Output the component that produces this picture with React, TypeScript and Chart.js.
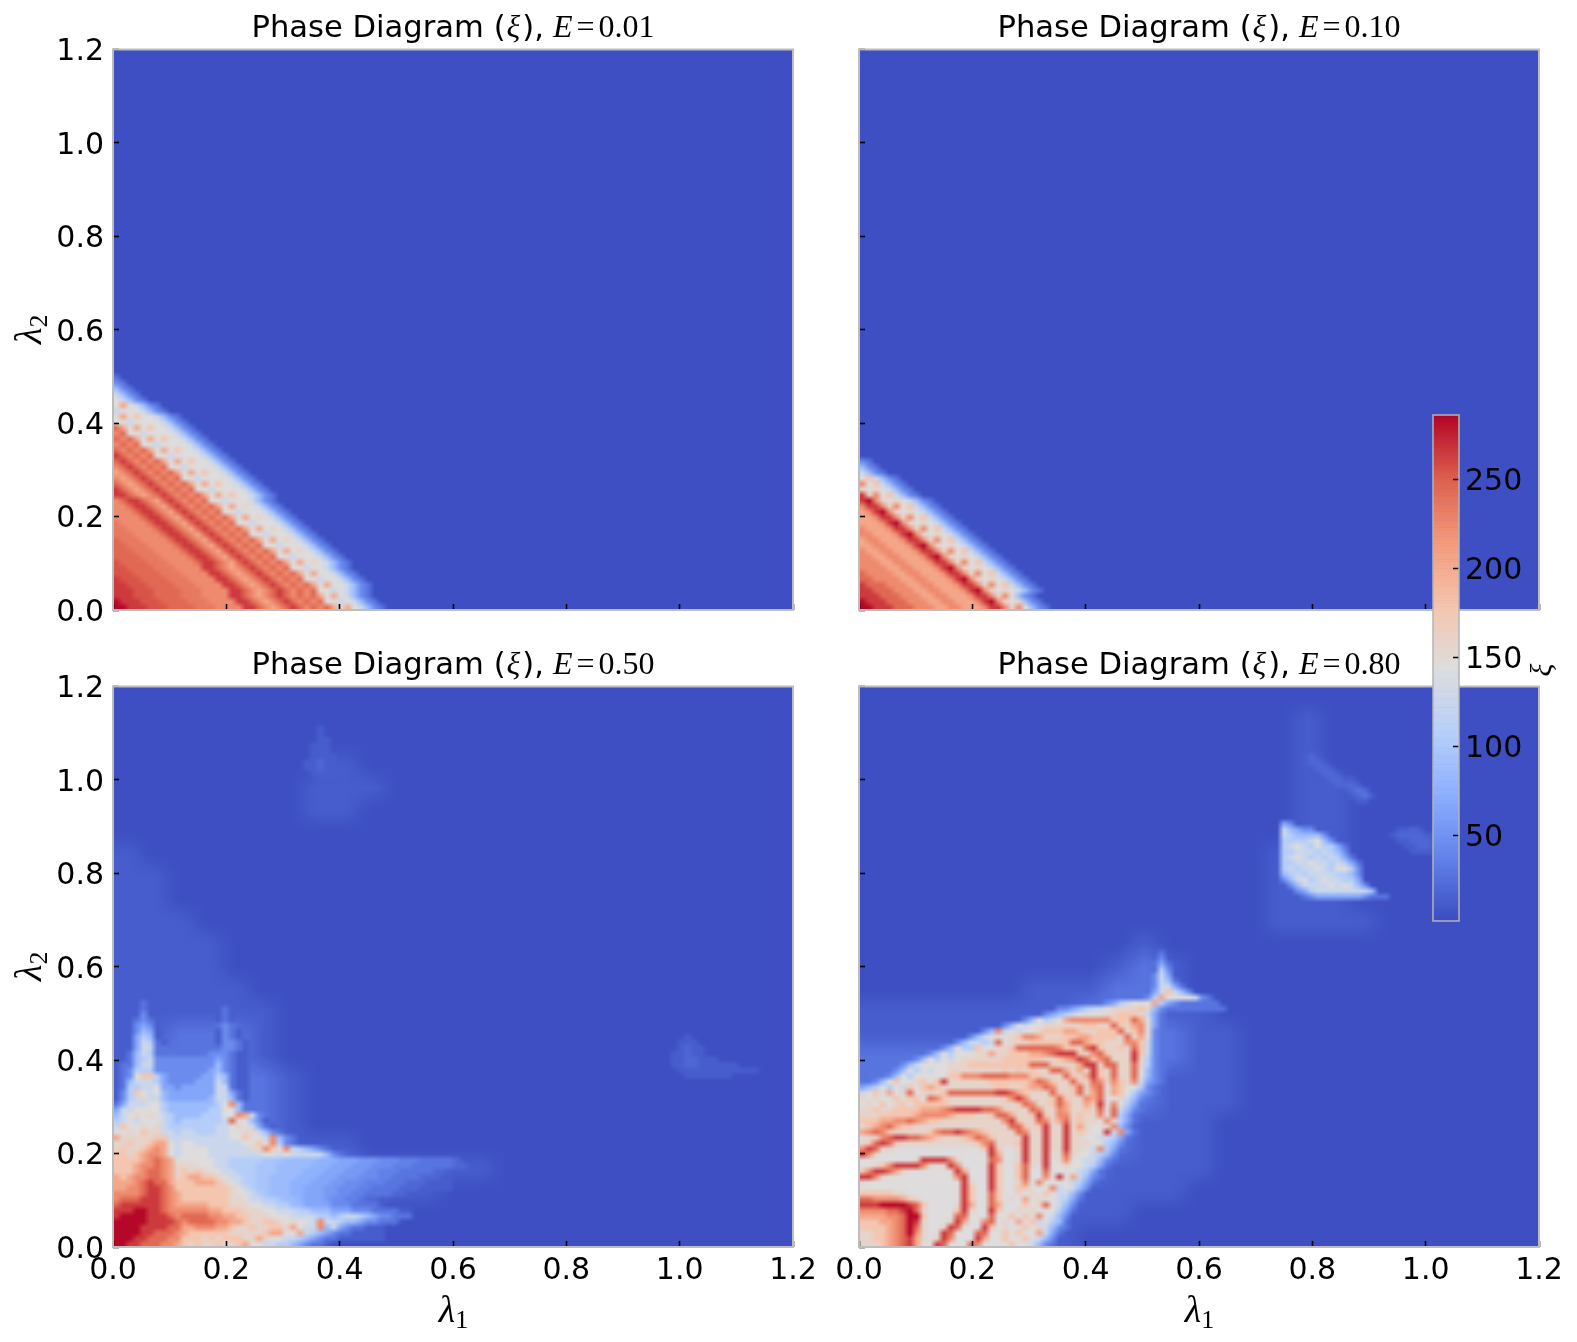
import React, { useEffect, useRef } from "react";
import { Chart, registerables } from "chart.js";

Chart.register(...registerables);

const lambdaTicks = [0, 0.2, 0.4, 0.6, 0.8, 1.0, 1.2];
const colorbarTicks = [50, 100, 150, 200, 250];
const energies = ["0.01", "0.10", "0.50", "0.80"];
const axisSpan = 1.2;
const fineCells = 100;
const coarseCells = 25;
const colorMin = 2;
const colorMax = 286;

// key of each cell character -> xi
const levelKeys = "0123456789abcdefkjghilm";
const levelValues = [4, 13, 28, 45, 65, 85, 105, 125, 145, 158, 178, 205, 225, 245, 265, 285, 20, 36, 55, 75, 95, 255, 235];

const coolwarm = [
  [59, 76, 192], [98, 130, 234], [141, 176, 254], [184, 208, 249], [221, 221, 221],
  [245, 196, 173], [244, 154, 123], [222, 96, 77], [180, 4, 38],
];

// coarse rows: top (lambda2=1.2) to bottom (lambda2=0)
const coarse1 = [
  "0000000000000000000000000","0000000000000000000000000","0000000000000000000000000","0000000000000000000000000",
  "0000000000000000000000000","0000000000000000000000000","0000000000000000000000000","0000000000000000000000000",
  "0000000000000000000000000","0000000000000000000000000","0000000000000000000000000","0000000000000000000000000",
  "0000000000000000000000000","0000000000000000000000000","0000000000000000000000000","0000000000000000000000000",
  "0000000000000000000000000","0000000000000000000000000","0000000000000000000000000","0000000000000000000000000",
  "0000000000000000000000000","0000000000000000000000000","0000000000000000000000000","0000000000000000000000000",
  "0000000000000000000000000",
];
const coarse2 = coarse1;
const coarse3 = [
  "0000000000000000000000000","0000000000000000000000000","0000000000000000000000000","0000000010000000000000000",
  "0000000111000000000000000","0000000110000000000000000","0000000000000000000000000","1000000000000000000000000",
  "1100000000000000000000000","1100000000000000000000000","1110000000000000000000000","1111000000000000000000000",
  "1111000000000000000000000","1111100000000000000000000","1111110000000000000000000","1122210000000000000000000",
  "1222210000000000000000000","2222221000000000000000000","2222221000000000000000000","2222221000000000000000000",
  "2222111110000000000000000","3322222221111100000000000","3322222211110000000000000","3322221110000000000000000",
  "3322211000000000000000000",
];
const coarse4 = [
  "0000000000000000000000000","0000000000000000100000000","0000000000000000100000000","0000000000000000100000000",
  "0000000000000000110000000","0000000000000000110000000","0000000000000000110000000","0000000000000001110000000",
  "0000000000000001110000000","0000000000000001110000000","0000000000000001111000000","0000000000100000000000000",
  "0000000001210000000000000","0000001112210000000000000","1111111122211000000000000","1111112222221100000000000",
  "2222222222221100000000000","2222222222211100000000000","2222222222211100000000000","2222222222111000000000000",
  "2222222222111000000000000","2222222221111000000000000","2222222211110000000000000","2222221111000000000000000",
  "2222211100000000000000000",
];

// fine rows: "_" = nothing here, blanks only separate groups of ten; first row is topRow, going down
const fine1 = {
  col: 0, topRow: 41, rows: [
    "2","32","532","7532","87532","8b87532","78887532","8b8a887532","88788887532",
    "db8b8a887532","cd88788887532","dcdb8b8a887532","cdcd88788887532","dcdcdb8b8a887532","edcdcd88788887532",
    "dedcdcdb8b8a887532","cdedcdcd88788887532","bcdedcdcdb8b8a887532","cbcdedcdcd88788887532",
    "dcbcdedcdcdb8b8a887532","edcbcdedcdcd88788887532","eedcbcdedcdcdb8b8a887532",
    "c" + "deedcbdedcdcd" + "8878887532",
    "cc" + "deedcbdedcdcd" + "b8b8987532",
    "ccc" + "deedcbdedcdcd" + "8878887532",
    "cccc" + "deedcbdedcdcd" + "b8b8987532",
    "mcccc" + "deedcbdedcdcd" + "8878887532",
    "mmcccc" + "deedcbdedcdcd" + "b8b8987532",
    "mmmcccc" + "deedcbdedcdcd" + "8878887532",
    "dmmmcccc" + "deedcbdedcdcd" + "b8b8987532",
    "ddmmmcccc" + "deedcbdedcdcd" + "8878887532",
    "dddmmmcccc" + "deedcbdedcdcd" + "b8b8987532",
    "ddddmmmcccc" + "deedcbdedcdcd" + "8878887532",
    "lddddmmmcccc" + "deedcbdedcdcd" + "b8b8987532",
    "llddddmmmcccc" + "eedcbcdedcdcd" + "887887532",
    "lllddddmmmcccc" + "eedcbcdedcdcd" + "b8b887532",
    "elllddddmmmcccc" + "eedcbcdedcdcd" + "887887532",
    "eelllddddmmmcccc" + "eedcbcdedcdcd" + "b8b887532",
    "eeelllddddmmmcccc" + "eedcbcdedcdcd" + "88787532",
    "eeelllddddmmmcccc" + "eedcbcdedcdcd" + "b8b87532",
    "feeelllddddmmmcccc" + "eedcbcdedcdcd" + "88787532",
    "ffeeelllddddmmmcccc" + "eedcbcdedcdcd" + "b8b87532",
  ],
};
const fine2 = {
  col: 0, topRow: 26, rows: [
    "32","532","7532","8a7532","c8a7532","98987532","e9c8a7532","efc98987532","ceec9c8a7532","bcefc98987532",
    "bbceec9c8a7532","bbbcefc98987532","cbbbceec9c8a7532","ccbbbcefc98987532","bccbbbceec9c8a7532",
    "bbccbbbcefc98987532","cbbccbbbceec9c8a7532","ccbbccbbbcefc98987532","cccbbccbbbceec9c8a7532",
    "ccccbbccbbbcefc98987532","dccccbbccbbbceec9c8a7532","ddccccbbccbbbcefc98987532",
    "edddcccbbccbbbceec9c8a7532","eedddcccbbccbbbcefc98987532","eeedddcccbbccbbbceec9c8532",
    "feeedddcccbbccbbbcefc989532","ffeeedddcccbbccbbbceec9c8532",
  ],
};
const fine3 = {
  col: 0, topRow: 44, rows: [
    "____1_____ ______1___",
    "___121____ ______1___",
    "___121____ _____121__",
    "___131____ _____121__",
    "___232____ _____121__",
    "__1343____ _____232__",
    "__13541___ _____1321_",
    "__14651___ _____1321_",
    "__147621__ _____13321",
    "__147722__ ____223321",
    "_125762222 2222333211",
    "1125673333 3333343211",
    "1225773333 3333353211",
    "1236663333 3333453211",
    "1238aa6433 3334465211",
    "1257776433 3344475211",
    "1266778443 4444477211",
    "136a878544 4444477421",
    "1367977544 4444577521",
    "2477788655 5555568c52 2_________",
    "4778888655 5555668852 2_________",
    "5789898765 55566688cb 732_______",
    "6787888765 6666667d88 531_______",
    "7a88989766 6666677898 7421______",
    "8898a99776 7766677889 97532_____",
    "b99999aa77 7777777 88a 887c532___",
    "99a99abb87 8877777778 8a8c632___",
    "9a99abcb87 8888777777 99ca8c7654 32________",
    "aa9abccb87 8888777777 7788787777 7532______",
    "aaaabcdcb8 8888877666 66iii55555 hhh444ggg3 33jjj22222 k_________",
    "aaabccdcb9 9988877666 6iii55555h hh444ggg33 3jjj222222 kk________",
    "aaabcddcb9 a9a9887766 6iii5555hh h444ggg33j jj22222kk1",
    "babccddcb9 abbaa98776 6ii5555hhh 444ggg333j j2222kkk11",
    "bbbcdeddba aabbba9876 6ii555hhh4 44gg333jjj 222kkk1111",
    "bbccdeedca aaaaaaa987 6ii555hh44 4gg333jj22 22kkk11111",
    "ccccdeedcb aaaaaaa988 76i555hh44 4gg33jj222 2kk1",
    "cdddeeedcb aaaaaaa998 7766i55h44 4g33jj2kk1 1",
    "deeeeeedcb bbbbaaa999 8877665544 4433322221",
    "eeeffeedcc ccccbbaaa9 9988777665 5544433322 2211",
    "effffeeedc ddddccbbaa 9998887777 6656776543 3222",
    "fffffeeeed cddddccbba 99aa989887 c776554332 22",
    "ffffeeeedd bbcccbba99 a99aa9b877 c574322111",
    "ffffeedddc baaaaaa999 99abb88b76 5432211111",
    "fffeedddcc aaa9a9aaa9 9b98877654 3221111111",
    "ffeedddccb a9a99a99ab 8877665432 21________",
  ],
};
const fine3BlobRight = {
  col: 80, topRow: 37, rows: [
    "____1","___111","___1k11","__11k11","__11kk111","__11kk111111","___111111111111","____1111111",
  ],
};
const fine3BlobTop = {
  col: 26, topRow: 92, rows: [
    "____1","____1","____11","___111","___111","___1111","__11k11","__11k111","___11111","____111",
  ],
};
const fine4 = {
  col: 0, topRow: 52, rows: [
    "__________ __________ __________ __________ ____2_____",
    "__________ __________ __________ __________ ____3_____",
    "__________ __________ __________ __________ ___242____",
    "__________ __________ __________ __________ ____63____",
    "__________ __________ __________ __________ ___374____",
    "__________ __________ __________ __________ ___3752___",
    "__________ __________ __________ __________ ___37742__",
    "__________ __________ __________ __________ ___47a753_",
    "__________ __________ __________ __________ __36b88887 32________",
    "__________ __________ __________ ______3467 888b643222 222_______",
    "__________ __________ _________3 3456778999 9a95322222 2222______",
    "__________ __________ _______345 6788889 9aa a9742_____",
    "__________ __________ ____358678 bccccccaaa db842_____",
    "__________ __________ _358788999 999aa99da9 bc842_____",
    "__________ ________35 c787889aaa bba99aaad9 ac832_____",
    "__________ ______3578 889accb999 aabbaaaa9d 9b832_____",
    "__________ ____357767 d899 9aaaaa addbaa999c ca732_____",
    "__________ __35866a88 99addddddc aa9dea99a9 da732_____",
    "__________ 358688899b 99aaabbcde eea9cda999 ea732_____",
    "________35 8687899999 9aaaaaa99a bcedacd999 e9632_____",
    "______3578 888999aaaa aaaaaddda9 99bee9dd99 d9632_____",
    "_____35868 7889999999 9a9a9a99dd b9b9ea9d99 d8532_____",
    "____358688 888aacccdd ddcccaa999 da9bea9d99 d8532_____",
    "__358a889a 8ae999999a aaaaabdca9 9da9dc9ca9 c7432_____",
    "4568687a8a ba99999999 aa99abbdc9 9ad9cd8ba8 8632______",
    "78a8b89d89 99addddddd eedba999da 9ad9bd8ba8 6432______",
    "98988a8aa8 dca9999999 9acec999ad a99cbd8897 532_______",
    "898a89a8aa aaa9999999 999adc99ad b99bae8c86 42________",
    "99a99aaaab bbcdeeeedd ca999dc99c b99a9d8d75 32________",
    "999aaaaabc cccbaaa99a ddb99aea9c c9a99c8d64 2_________",
    "aaabbccdcb aa99999999 9cea99dc9b d9a998c964 2_________",
    "9abcdbaa99 9999999999 99dda9ae99 e9b9889c53 __________",
    "bcdca99999 acddedcba9 999dc99e99 e9a988e7c4 2_________",
    "899cdeeddc ba999abdca 9999e99e99 e998877642 __________",
    "9adeda9999 9999999acd 999ae99e99 e99988653_ __________",
    "ced9988888 88888888ae a889e99e99 e9987c642_ __________",
    "ec98888888 888888888e b889e99e89 d9887653__ __________",
    "888888889e eeec98888d c889e99e89 c8877532__",
    "889aceeeec 989ec8888e a88ad98e88 9887642___",
    "aceedb9888 8889eb888e a88ad88d88 887642____",
    "eec9888888 8888ce888e a88ad88c8e 8b7532____",
    "9888888888 88888e988e a889c8c888 87642_____",
    "8888888888 88888ea88e a88aa888c7 8753______",
    "aaaaa99888 88888ea88d a889898a87 753_______",
    "ddccccba98 88888ea88d a898b89887 642_______",
    "eeeffffeda 88889eb88d b888a89d87 53________",
    "ccccddefd9 8888ae988e a889898886 42________",
    "bbbbccdffa 8888dd888d 88a8a8c875 3_________",
    "aaabbcdfe9 8889eb88cd 898b8a7865 2_________",
    "aaaabcdfd9 889ed888ea 8988a89753 2_________",
    "99aabcdfc9 88ed888dd8 8a8a88b742 __________",
    "99aabcdeb9 89ec888eb8 8a88a8753_ __________",
    "999abcdeb8 8ed888dc88 88a887532_ __________",
  ],
};
const fine4Island = {
  col: 62, topRow: 75, rows: [
    "43","75433","7655553","66667853","6787686642","6677767653","67876767642","667787767642",
    "676778768863","567677776653","357867877664","_357777878753","__346777777775","___2344444443222",
  ],
};
const fine4ArcUpper = {
  col: 65, topRow: 88, rows: [
    "_1","1k1","1kk1","_1kk1","__1kk1","___1kk11","____1kkk1","______1k2k","_______1k21","________11",
  ],
};
const fine4ArcRight = {
  col: 78, topRow: 74, rows: ["_11k1","1kkkk11","_11kkk11","__11kk11","___11111"],
};

const panelCoarse = [coarse1, coarse2, coarse3, coarse4];
const panelFine = [[fine1], [fine2], [fine3, fine3BlobRight, fine3BlobTop], [fine4, fine4Island, fine4ArcUpper, fine4ArcRight]];

const titleSans = "Phase Diagram (";
const titleXi = "ξ";
const titleClose = "),";
const titleE = "E";
const titleEq = "=";
const xLabelSymbol = "λ";
const xLabelIndex = "1";
const yLabelSymbol = "λ";
const yLabelIndex = "2";
const colorbarLabel = "ξ";

type Pt = { x: number; y: number; v: number };

function xiOf(ch: string) {
  return levelValues[levelKeys.indexOf(ch)];
}

function coarsePoints(rows: string[]): Pt[] {
  const step = axisSpan / coarseCells;
  const pts: Pt[] = [];
  rows.forEach((row, r) => {
    const j = coarseCells - 1 - r;
    [...row].forEach((ch, i) => pts.push({ x: (i + 0.5) * step, y: (j + 0.5) * step, v: xiOf(ch) }));
  });
  return pts;
}

function finePoints(blocks: { col: number; topRow: number; rows: string[] }[]): Pt[] {
  const step = axisSpan / fineCells;
  const pts: Pt[] = [];
  blocks.forEach((b) => {
    b.rows.forEach((row, r) => {
      const j = b.topRow - r;
      [...row.replace(/ /g, "")].forEach((ch, k) => {
        if (ch !== "_") pts.push({ x: (b.col + k + 0.5) * step, y: (j + 0.5) * step, v: xiOf(ch) });
      });
    });
  });
  return pts;
}

function colorOf(v: number) {
  const t = Math.max(0, Math.min(1, (v - colorMin) / (colorMax - colorMin))) * (coolwarm.length - 1);
  const a = Math.min(coolwarm.length - 2, Math.floor(t));
  const f = t - a;
  return coolwarm[a].map((c, n) => Math.round(c + (coolwarm[a + 1][n] - c) * f));
}

const heatPlugin = {
  id: "heat",
  beforeDatasetsDraw(chart: any) {
    const { ctx, chartArea, scales } = chart;
    const x0 = scales.x.getPixelForValue(0);
    const x1 = scales.x.getPixelForValue(axisSpan);
    const y0 = scales.y.getPixelForValue(axisSpan);
    const y1 = scales.y.getPixelForValue(0);
    ctx.save();
    ctx.beginPath();
    ctx.rect(chartArea.left, chartArea.top, chartArea.width, chartArea.height);
    ctx.clip();
    chart.data.datasets.forEach((ds: any) => {
      const n = ds.cells;
      const off = document.createElement("canvas");
      off.width = n;
      off.height = n;
      const oc = off.getContext("2d")!;
      const img = oc.createImageData(n, n);
      ds.data.forEach((p: Pt) => {
        const col = Math.floor((p.x / axisSpan) * n);
        const row = n - 1 - Math.floor((p.y / axisSpan) * n);
        const rgb = colorOf(p.v);
        const o = (row * n + col) * 4;
        img.data[o] = rgb[0];
        img.data[o + 1] = rgb[1];
        img.data[o + 2] = rgb[2];
        img.data[o + 3] = 255;
      });
      oc.putImageData(img, 0, 0);
      ctx.imageSmoothingEnabled = true;
      ctx.imageSmoothingQuality = "medium";
      ctx.drawImage(off, x0, y0, x1 - x0, y1 - y0);
    });
    ctx.restore();
  },
};

const framePlugin = {
  id: "frame",
  afterDraw(chart: any) {
    const { ctx, chartArea: a } = chart;
    ctx.save();
    ctx.strokeStyle = "#bdbdbd";
    ctx.lineWidth = 2;
    ctx.strokeRect(a.left, a.top, a.width, a.height);
    ctx.restore();
  },
};

function titlePlugin(energy: string, baselineFromTop: number) {
  return {
    id: "panelTitle",
    afterDraw(chart: any) {
      const { ctx, chartArea: a } = chart;
      const sans = "30.6px 'DejaVu Sans'";
      const serif = "32px 'Liberation Serif', 'DejaVu Serif'";
      const ital = "italic 32px 'Liberation Serif', 'DejaVu Serif'";
      const parts: [string, string, number][] = [
        [titleSans, sans, 1],
        [titleXi, ital, 2],
        [titleClose, sans, 9],
        [titleE, ital, 4],
        [titleEq, serif, 4],
        [energy, serif, 0],
      ];
      ctx.save();
      ctx.fillStyle = "#000";
      ctx.textBaseline = "alphabetic";
      ctx.textAlign = "left";
      let total = 0;
      parts.forEach(([t, f, gap]) => {
        ctx.font = f;
        total += ctx.measureText(t).width + gap;
      });
      let x = (a.left + a.right) / 2 - total / 2;
      parts.forEach(([t, f, gap]) => {
        ctx.font = f;
        ctx.fillText(t, x, baselineFromTop);
        x += ctx.measureText(t).width + gap;
      });
      ctx.restore();
    },
  };
}

function axisLabelPlugin(showX: boolean, showY: boolean) {
  const drawLabel = (ctx: any, symbol: string, index: string) => {
    ctx.font = "italic 38px 'Liberation Serif', 'DejaVu Serif'";
    const w1 = ctx.measureText(symbol).width;
    ctx.fillText(symbol, -(w1 + 12) / 2, 0);
    ctx.font = "26px 'Liberation Serif', 'DejaVu Serif'";
    ctx.fillText(index, -(w1 + 12) / 2 + w1, 6);
  };
  return {
    id: "axisLabels",
    afterDraw(chart: any) {
      const { ctx, chartArea: a } = chart;
      ctx.save();
      ctx.fillStyle = "#000";
      ctx.textAlign = "left";
      ctx.textBaseline = "alphabetic";
      if (showX) {
        ctx.save();
        ctx.translate((a.left + a.right) / 2, a.bottom + 75);
        drawLabel(ctx, xLabelSymbol, xLabelIndex);
        ctx.restore();
      }
      if (showY) {
        ctx.save();
        ctx.translate(41, (a.top + a.bottom) / 2);
        ctx.rotate(-Math.PI / 2);
        drawLabel(ctx, yLabelSymbol, yLabelIndex);
        ctx.restore();
      }
      ctx.restore();
    },
  };
}

const colorbarPlugin = {
  id: "colorbarFill",
  beforeDatasetsDraw(chart: any) {
    const { ctx, chartArea: a, scales } = chart;
    ctx.save();
    for (let v = colorMin; v < colorMax; v++) {
      const rgb = colorOf(v + 0.5);
      const top = scales.y.getPixelForValue(v + 1);
      const bottom = scales.y.getPixelForValue(v);
      ctx.fillStyle = `rgb(${rgb[0]},${rgb[1]},${rgb[2]})`;
      ctx.fillRect(a.left, top, a.width, bottom - top + 0.6);
    }
    ctx.restore();
  },
  afterDraw(chart: any) {
    const { ctx, chartArea: a } = chart;
    ctx.save();
    ctx.strokeStyle = "#b4b4b4";
    ctx.lineWidth = 1.5;
    ctx.strokeRect(a.left, a.top, a.width, a.height);
    ctx.translate(151, (a.top + a.bottom) / 2 + 2);
    ctx.rotate(-Math.PI / 2);
    ctx.font = "italic 30px 'Liberation Serif', 'DejaVu Serif'";
    ctx.fillStyle = "#000";
    ctx.textAlign = "center";
    ctx.textBaseline = "alphabetic";
    ctx.fillText(colorbarLabel, 0, 0);
    ctx.restore();
  },
};

const tickFont = { family: "'DejaVu Sans'", size: 30 };

function zeroPadding(scale: any) {
  scale.paddingLeft = 0;
  scale.paddingRight = 0;
  scale.paddingTop = 0;
  scale.paddingBottom = 0;
}

function axis(position: string, showLabels: boolean, size: number) {
  return {
    type: "linear",
    position,
    min: 0,
    max: axisSpan,
    afterBuildTicks(scale: any) {
      scale.ticks = lambdaTicks.map((value) => ({ value }));
    },
    afterFit(scale: any) {
      if (position === "left") scale.width = size;
      else scale.height = size;
      zeroPadding(scale);
    },
    grid: {
      drawOnChartArea: false,
      drawTicks: true,
      tickLength: -6,
      tickWidth: 1.6,
      tickColor: "#000",
      z: 1,
    },
    border: { display: false },
    ticks: {
      display: showLabels,
      autoSkip: false,
      maxRotation: 0,
      minRotation: 0,
      padding: position === "left" ? 15 : 12,
      labelOffset: position === "left" ? 3 : 0,
      color: "#000",
      font: tickFont,
      callback: (v: number) => v.toFixed(1),
    },
  };
}

function Panel({ index, left, top, width, height, areaTop, areaBottom, showY, showX }: any) {
  const ref = useRef<HTMLCanvasElement>(null);
  useEffect(() => {
    const chart = new Chart(ref.current as any, {
      type: "scatter",
      data: {
        datasets: [
          { data: coarsePoints(panelCoarse[index]), cells: coarseCells, pointRadius: 0, showLine: false } as any,
          { data: finePoints(panelFine[index]), cells: fineCells, pointRadius: 0, showLine: false } as any,
        ],
      },
      options: {
        animation: false,
        responsive: false,
        devicePixelRatio: 1,
        events: [],
        layout: { padding: { left: 0, right: 37, top: areaTop, bottom: 0 } },
        plugins: { legend: { display: false }, tooltip: { enabled: false }, title: { display: false } },
        scales: {
          x: axis("bottom", showX, height - areaBottom),
          y: axis("left", showY, 113),
        } as any,
      },
      plugins: [heatPlugin, framePlugin, titlePlugin(energies[index], areaTop - 13), axisLabelPlugin(showX, showY)],
    } as any);
    return () => chart.destroy();
  }, []);
  return (
    <canvas
      ref={ref}
      width={width}
      height={height}
      style={{ position: "absolute", left, top, width, height }}
    />
  );
}

function Colorbar() {
  const ref = useRef<HTMLCanvasElement>(null);
  useEffect(() => {
    const chart = new Chart(ref.current as any, {
      type: "scatter",
      data: { datasets: [{ data: [], pointRadius: 0 }] },
      options: {
        animation: false,
        responsive: false,
        devicePixelRatio: 1,
        events: [],
        layout: { padding: { left: 33, right: 0, top: 35, bottom: 39 } },
        plugins: { legend: { display: false }, tooltip: { enabled: false } },
        scales: {
          x: { display: false },
          y: {
            type: "linear",
            position: "right",
            min: colorMin,
            max: colorMax,
            afterBuildTicks(scale: any) {
              scale.ticks = colorbarTicks.map((value) => ({ value }));
            },
            afterFit(scale: any) {
              scale.width = 118;
              zeroPadding(scale);
            },
            grid: { drawOnChartArea: false, tickLength: -6, tickWidth: 1.5, tickColor: "#000", z: 1 },
            border: { display: false },
            ticks: { color: "#000", font: tickFont, padding: 12, labelOffset: 3, autoSkip: false, callback: (v: number) => String(v) },
          },
        } as any,
      },
      plugins: [colorbarPlugin],
    } as any);
    return () => chart.destroy();
  }, []);
  return (
    <canvas
      ref={ref}
      width={177}
      height={580}
      style={{ position: "absolute", left: 1400, top: 380, width: 177, height: 580 }}
    />
  );
}

export default function App() {
  return (
    <div style={{ position: "absolute", left: 0, top: 0, width: 1577, height: 1342, overflow: "hidden", background: "#fff" }}>
      <Panel index={0} left={0} top={0} width={830} height={630} areaTop={49.5} areaBottom={610} showY showX={false} />
      <Panel index={1} left={746} top={0} width={830} height={630} areaTop={49.5} areaBottom={610} showY={false} showX={false} />
      <Panel index={2} left={0} top={636} width={830} height={706} areaTop={50.5} areaBottom={611} showY showX />
      <Panel index={3} left={746} top={636} width={830} height={706} areaTop={50.5} areaBottom={611} showY={false} showX />
      <Colorbar />
    </div>
  );
}
